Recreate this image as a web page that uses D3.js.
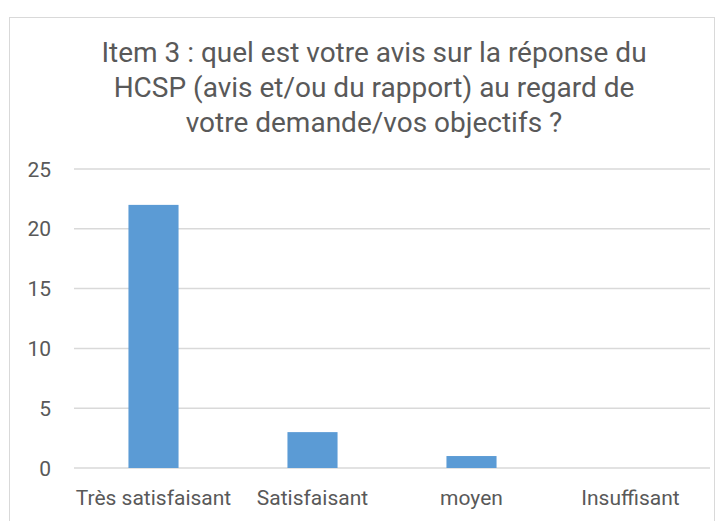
<!DOCTYPE html>
<html>
<head>
<meta charset="utf-8">
<script src="https://cdn.jsdelivr.net/npm/d3@7"></script>
<style>
  html, body { margin: 0; padding: 0; background: #fff; }
  svg { display: block; }
</style>
</head>
<body>
<svg id="chart" width="728" height="521"></svg>
<script>
const titleLines = [
  "Item 3 : quel est votre avis sur la réponse du",
  "HCSP (avis et/ou du rapport) au regard de",
  "votre demande/vos objectifs ?"
];
const categories = ["Très satisfaisant", "Satisfaisant", "moyen", "Insuffisant"];
const counts = [22, 3, 1, 0];
const yTicks = [0, 5, 10, 15, 20, 25];

const svg = d3.select("#chart");
const width = 728;
const height = 521;
const margin = { top: 169, right: 18, bottom: 53, left: 74 };
const textColor = "#595959";

// chart frame
svg.append("rect")
  .attr("x", 9.5)
  .attr("y", 17.5)
  .attr("width", 705)
  .attr("height", 520)
  .attr("fill", "#fff")
  .attr("stroke", "#d9d9d9")
  .attr("stroke-width", 1);

const x = d3.scaleBand()
  .domain(categories)
  .range([margin.left, width - margin.right])
  .paddingInner(0.685)
  .paddingOuter(0.3425);

const y = d3.scaleLinear()
  .domain([0, 25])
  .range([height - margin.bottom, margin.top]);

// gridlines
svg.append("g")
  .selectAll("line")
  .data(yTicks)
  .join("line")
  .attr("x1", margin.left)
  .attr("x2", width - margin.right)
  .attr("y1", (d) => y(d))
  .attr("y2", (d) => y(d))
  .attr("stroke", "#d9d9d9")
  .attr("stroke-width", 1.5);

// y labels
svg.append("g")
  .selectAll("text")
  .data(yTicks)
  .join("text")
  .attr("x", 51)
  .attr("y", (d) => y(d) + 7.5)
  .attr("text-anchor", "end")
  .attr("font-family", "Roboto, sans-serif")
  .attr("font-size", 21)
  .attr("fill", textColor)
  .text((d) => d);

// bars
svg.append("g")
  .selectAll("rect")
  .data(counts)
  .join("rect")
  .attr("x", (d, i) => x(categories[i]))
  .attr("y", (d) => y(d))
  .attr("width", x.bandwidth())
  .attr("height", (d) => y(0) - y(d))
  .attr("fill", "#5b9bd5");

// x labels
svg.append("g")
  .selectAll("text")
  .data(categories)
  .join("text")
  .attr("x", (d) => x(d) + x.bandwidth() / 2)
  .attr("y", 505)
  .attr("text-anchor", "middle")
  .attr("font-family", "Roboto, sans-serif")
  .attr("font-size", 21)
  .attr("fill", textColor)
  .text((d) => d);

// title
svg.append("g")
  .selectAll("text")
  .data(titleLines)
  .join("text")
  .attr("x", 374)
  .attr("y", (d, i) => 62 + i * 35)
  .attr("text-anchor", "middle")
  .attr("font-family", "Roboto, sans-serif")
  .attr("font-size", 28)
  .attr("fill", textColor)
  .text((d) => d);
</script>
</body>
</html>
